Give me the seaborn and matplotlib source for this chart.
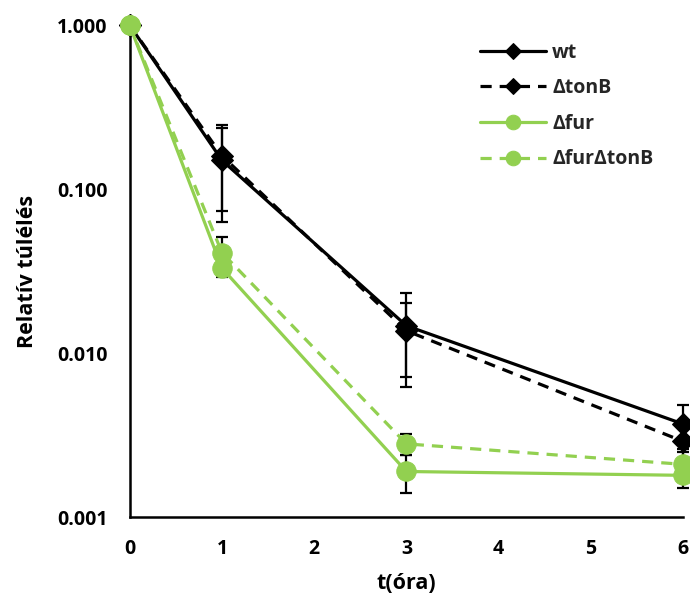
import numpy as np
import pandas as pd
import matplotlib
matplotlib.use("Agg")
import matplotlib.pyplot as plt
import seaborn as sns
from matplotlib.ticker import FixedLocator, FormatStrFormatter, NullLocator

# Adatok
t_ora = [0, 1, 3, 6]
wt = [1.0, 0.150, 0.0147, 0.0037]
wt_err = [0.0, 0.087, 0.0085, 0.0011]
tonB = [1.0, 0.160, 0.0137, 0.0029]
tonB_err = [0.0, 0.086, 0.0065, 0.0009]
fur = [1.0, 0.033, 0.0019, 0.0018]
fur_err = [0.0, 0.004, 0.0005, 0.0003]
furtonB = [1.0, 0.041, 0.0028, 0.0021]
furtonB_err = [0.0, 0.010, 0.0004, 0.0004]

labels = ["wt", "ΔtonB", "Δfur", "ΔfurΔtonB"]
y_ticks = [0.001, 0.01, 0.1, 1.0]

GREEN = "#92D050"

sns.set_theme(style="white")
plt.rcParams["font.family"] = ["Open Sans", "DejaVu Sans"]
plt.rcParams["font.weight"] = "bold"

fig = plt.figure(figsize=(6.9, 6.0), dpi=100)
ax = fig.add_axes([0.188, 0.138, 0.802, 0.82])

series = [
    (labels[0], wt, wt_err, "black", "-", "D", 11),
    (labels[1], tonB, tonB_err, "black", (0, (3.5, 2.5)), "D", 11),
    (labels[2], fur, fur_err, GREEN, "-", "o", 14),
    (labels[3], furtonB, furtonB_err, GREEN, (0, (3.5, 2.5)), "o", 14),
]

for name, vals, errs, col, ls, mk, ms in series:
    ax.errorbar(t_ora, vals, yerr=errs, fmt="none", ecolor="black",
                elinewidth=1.6, capsize=4.5, capthick=1.6, zorder=2, clip_on=False)
    df = pd.DataFrame({"t": t_ora, "v": vals})
    sns.lineplot(data=df, x="t", y="v", ax=ax, color=col, linestyle=ls,
                 linewidth=2.3, marker=mk, markersize=ms, markeredgecolor=col,
                 label=name, zorder=3, clip_on=False)

ax.set_yscale("log")
ax.set_xlim(0, 6)
ax.set_ylim(0.001, 1.0)
ax.yaxis.set_major_locator(FixedLocator(y_ticks))
ax.yaxis.set_major_formatter(FormatStrFormatter("%.3f"))
ax.yaxis.set_minor_locator(NullLocator())
ax.set_xticks(range(0, 7))

for s in ["top", "right"]:
    ax.spines[s].set_visible(False)
for s in ["left", "bottom"]:
    ax.spines[s].set_color("black")
    ax.spines[s].set_linewidth(1.8)

ax.tick_params(axis="both", which="major", direction="out", length=6,
               width=1.6, color="black", labelsize=14, labelcolor="black")
ax.tick_params(axis="y", pad=10)
ax.tick_params(axis="x", pad=10)
for lab in ax.get_xticklabels() + ax.get_yticklabels():
    lab.set_fontweight("bold")

ax.set_xlabel("t(óra)", fontsize=15.5, fontweight="bold", color="black", labelpad=10)
ax.set_ylabel("Relatív túlélés", fontsize=15.5, fontweight="bold", color="black", labelpad=14)

leg = ax.legend(loc="upper right", bbox_to_anchor=(0.978, 1.0), frameon=False,
                fontsize=14, handlelength=3.4, labelspacing=0.8, handletextpad=0.3,
                markerscale=0.75)
for txt in leg.get_texts():
    txt.set_fontweight("bold")

fig.savefig("out.png", dpi=100)
